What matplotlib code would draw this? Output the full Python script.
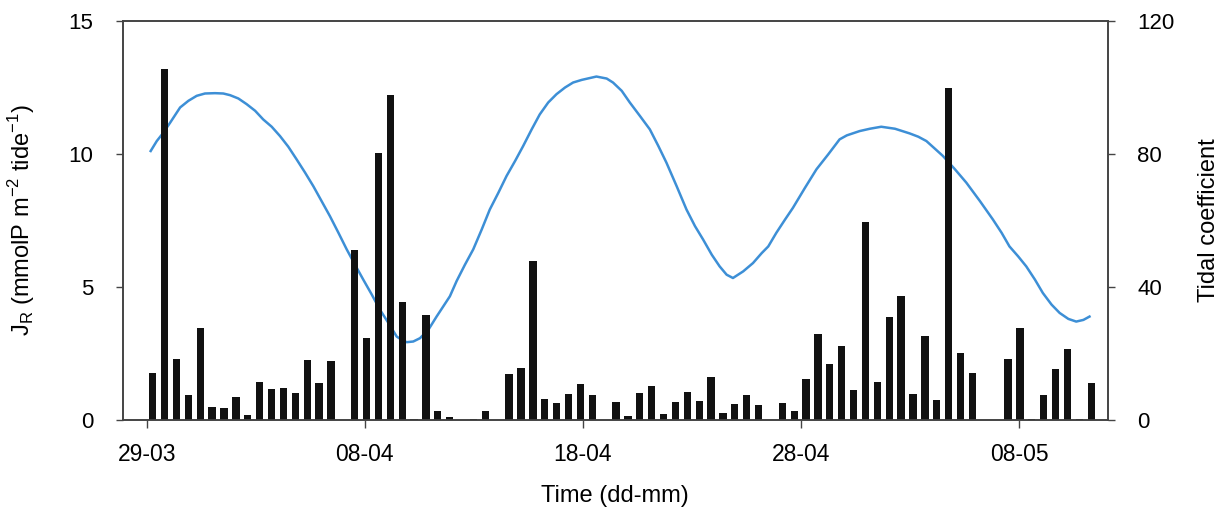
import numpy as np
import matplotlib.pyplot as plt

plt.rcParams['font.family'] = ['Liberation Sans', 'DejaVu Sans']

# release flux per tide (mmolP m-2 tide-1), 80 consecutive tides
jr = [1.78, 13.19, 2.29, 0.94, 3.47, 0.50, 0.44, 0.87, 0.20, 1.43,
      1.18, 1.21, 1.02, 2.27, 1.39, 2.22, 0.00, 6.40, 3.09, 10.03,
      12.20, 4.45, 0.05, 3.95, 0.33, 0.13, 0.00, 0.05, 0.35, 0.00,
      1.73, 1.97, 5.96, 0.77, 0.62, 0.97, 1.34, 0.94, 0.00, 0.69,
      0.15, 1.02, 1.28, 0.23, 0.67, 1.07, 0.72, 1.63, 0.25, 0.59,
      0.93, 0.57, 0.00, 0.62, 0.32, 1.53, 3.23, 2.11, 2.78, 1.14,
      7.44, 1.43, 3.86, 4.65, 0.99, 3.14, 0.74, 12.50, 2.53, 1.78,
      0.00, 0.00, 2.30, 3.47, 0.03, 0.94, 1.91, 2.66, 0.03, 1.39]
first_tide = 0.275      # days after 29-03
tide_step = 0.5447      # days between bars
tide_days = first_tide + tide_step * np.arange(len(jr))

# tidal coefficient curve (days after 29-03, coefficient)
coef_days = [0.18, 0.46, 0.76, 1.07, 1.53, 1.91, 2.29, 2.67, 3.13, 3.51,
             3.82, 4.20, 4.58, 4.97, 5.34, 5.73, 6.11, 6.49, 6.87, 7.26,
             7.64, 8.02, 8.40, 8.79, 9.17, 9.55, 9.93, 10.32, 10.69, 11.08,
             11.46, 11.69, 11.92, 12.22, 12.53, 12.91, 13.29, 13.60, 13.90, 14.21,
             14.59, 14.97, 15.36, 15.73, 16.12, 16.50, 16.89, 17.26, 17.65, 18.02,
             18.41, 18.79, 19.18, 19.55, 19.95, 20.62, 21.09, 21.38, 21.78, 22.15,
             22.62, 23.07, 23.46, 23.83, 24.30, 24.75, 25.14, 25.51, 25.91, 26.27,
             26.59, 26.88, 27.35, 27.80, 28.20, 28.50, 28.87, 29.27, 29.63, 30.18,
             30.71, 31.25, 31.77, 32.10, 32.69, 33.16, 33.68, 34.31, 34.98, 35.38,
             35.75, 36.14, 36.51, 37.06, 37.58, 38.21, 38.80, 39.20, 39.56, 39.96,
             40.33, 40.73, 41.09, 41.49, 41.86, 42.26, 42.62, 42.95, 43.23]
coef = [80.9, 83.9, 86.4, 89.4, 94.0, 96.0, 97.5, 98.2, 98.3, 98.2,
        97.7, 96.7, 95.0, 93.0, 90.4, 88.2, 85.4, 82.2, 78.4, 74.4,
        70.3, 65.8, 61.3, 56.3, 51.3, 46.7, 42.2, 37.7, 33.2, 29.2,
        25.1, 24.1, 23.4, 23.6, 24.6, 27.1, 31.1, 34.2, 37.2, 41.8,
        46.7, 51.3, 57.3, 63.3, 68.3, 73.4, 77.9, 82.4, 87.4, 91.9,
        95.5, 98.0, 100.0, 101.5, 102.3, 103.3, 102.7, 101.5, 99.0, 95.5,
        91.4, 87.4, 82.4, 77.4, 70.3, 63.3, 58.3, 54.3, 49.7, 46.2,
        43.7, 42.7, 44.7, 47.2, 50.2, 52.2, 56.3, 60.3, 63.8, 69.8,
        75.4, 79.9, 84.4, 85.6, 86.9, 87.6, 88.2, 87.6, 86.2, 85.2,
        83.9, 81.6, 79.4, 75.4, 71.4, 65.8, 60.3, 56.3, 52.2, 49.2,
        46.2, 42.2, 38.2, 34.7, 32.2, 30.4, 29.6, 30.1, 31.1]

tick_days = [0, 10, 20, 30, 40]
tick_labels = ['29-03', '08-04', '18-04', '28-04', '08-05']

fig = plt.figure(figsize=(12.23, 5.09), dpi=100)
ax = fig.add_axes([0.1002, 0.1749, 0.8058, 0.7838])
ax2 = ax.twinx()

ax.bar(tide_days, jr, width=0.335, color='#111111', zorder=2)
ax2.plot(coef_days, coef, color='#3d8fd6', lw=1.8, zorder=3,
         solid_joinstyle='round')
ax.set_zorder(ax2.get_zorder() + 1)
ax.patch.set_visible(False)

ax.set_xlim(-1.11, 44.08)
ax.set_ylim(0, 15)
ax2.set_ylim(0, 120)
ax.set_yticks([0, 5, 10, 15])
ax2.set_yticks([0, 40, 80, 120])
ax.set_xticks(tick_days)
ax.set_xticklabels(tick_labels)

for a in (ax, ax2):
    for s in a.spines.values():
        s.set_color('#444444')
        s.set_linewidth(1.2)
    a.tick_params(axis='y', labelsize=16, length=5, width=1,
                  color='#444444', pad=16)
ax.tick_params(axis='x', labelsize=16.5, length=5.8, width=1,
               color='#444444', pad=10.5)

ax.set_ylabel(r'J$_\mathregular{R}$ (mmolP m$^\mathregular{-2}$ tide$^\mathregular{-1}$)', fontsize=17)
ax2.set_ylabel('Tidal coefficient', fontsize=17)
ax.set_xlabel('Time (dd-mm)', fontsize=17)
ax.yaxis.set_label_coords(-0.0868, 0.5)
ax2.yaxis.set_label_coords(1.0915, 0.5)
ax.xaxis.set_label_coords(0.5, -0.162)

fig.savefig('out.png', dpi=100)
